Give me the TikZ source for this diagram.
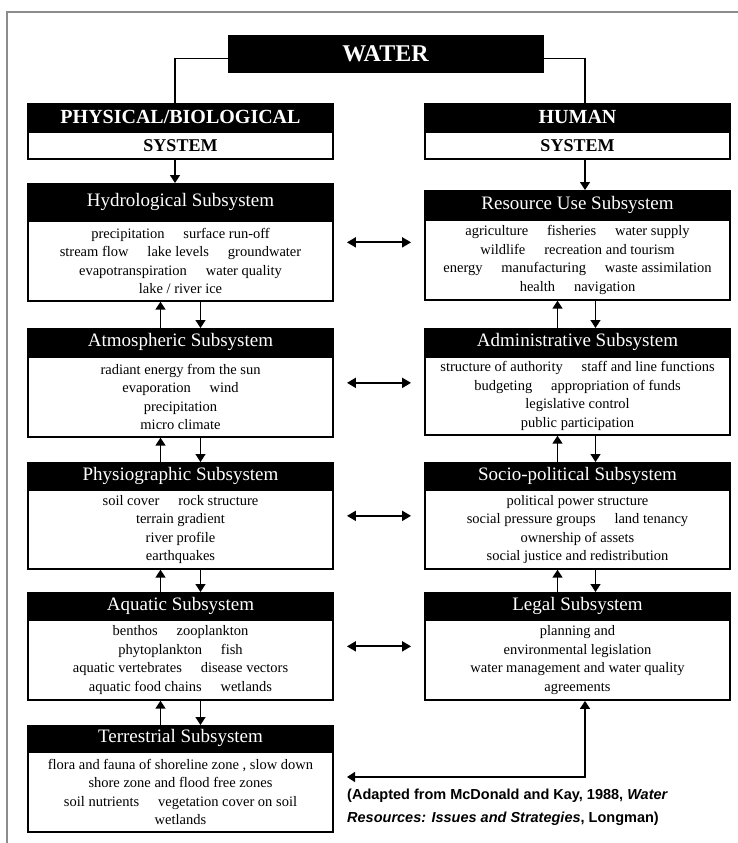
\documentclass[tikz,border=0pt]{standalone}
\usepackage{fontspec}
\setmainfont{Liberation Serif}
\newfontfamily\capfont{Liberation Sans}
\usetikzlibrary{arrows.meta,fit}
\newcommand\itemgap{\hspace{1.3em}}
\newcommand\subsys[7]{%
  \node[headbox, minimum height=#4pt] (#1h) at (#2,#3) {#5};
  \node[bodybox, minimum height=#6pt] (#1b) at (#1h.south) {#7};
  \node[fit=(#1h)(#1b), inner sep=0pt] (#1) {};
}
\begin{document}
\begin{tikzpicture}[x=1pt,y=-1pt,
  headbox/.style={draw=black, fill=black, text=white, line width=1.2pt, minimum width=305pt, inner sep=0pt, anchor=north, font=\fontsize{19}{21}\selectfont},
  bodybox/.style={draw=black, fill=white, line width=1.5pt, minimum width=305pt, inner sep=0pt, anchor=north, align=center, font=\fontsize{14.5}{18.5}\selectfont},
  topbox/.style={draw=black, fill=black, text=white, line width=1.2pt, minimum width=305pt, minimum height=27pt, inner sep=0pt, anchor=north, font=\bfseries\fontsize{20}{22}\selectfont},
  sysbox/.style={draw=black, fill=white, line width=1.5pt, minimum width=305pt, minimum height=27pt, inner sep=0pt, anchor=north, font=\bfseries\fontsize{18}{20}\selectfont},
  conn/.style={line width=1.5pt},
  arr/.style={line width=1.5pt, -{Triangle[width=10pt,length=8pt]}},
  dbl/.style={line width=2pt, {Triangle[width=10pt,length=9pt]}-{Triangle[width=10pt,length=9pt]}}
]
\useasboundingbox (0,0) rectangle (738,843);
\draw[black!45, line width=1.5pt] (7,843) -- (7,12) -- (738,12);

% top
\node[draw=black, fill=black, text=white, minimum width=315pt, minimum height=37pt, inner sep=0pt, font=\bfseries\fontsize{24}{26}\selectfont] (water) at (385.5,53.5) {WATER};
\node[topbox] (physh) at (180.5,103) {PHYSICAL/BIOLOGICAL};
\node[sysbox] (physs) at (physh.south) {SYSTEM};
\node[topbox] (humh) at (577.5,103) {HUMAN};
\node[sysbox] (hums) at (humh.south) {SYSTEM};
\coordinate (wl) at (175,0);
\coordinate (wr) at (585,0);
\draw[conn] ([yshift=-5pt]water.west) -| (physh.north -| wl);
\draw[conn] ([yshift=-5pt]water.east) -| (humh.north -| wr);

% left column
\subsys{hyd}{180.5}{183}{36}{Hydrological Subsystem}{80}{precipitation\itemgap surface run-off\\ stream flow\itemgap lake levels\itemgap groundwater\\ evapotranspiration\itemgap water quality\\ lake / river ice}
\subsys{atm}{180.5}{328}{27}{Atmospheric Subsystem}{80}{radiant energy from the sun\\ evaporation\itemgap wind\\ precipitation\\ micro climate}
\subsys{phy}{180.5}{462}{26}{Physiographic Subsystem}{79}{soil cover\itemgap rock structure\\ terrain gradient\\ river profile\\ earthquakes}
\subsys{aqu}{180.5}{592}{26}{Aquatic Subsystem}{80}{benthos\itemgap zooplankton\\ phytoplankton\itemgap fish\\ aquatic vertebrates\itemgap disease vectors\\ aquatic food chains\itemgap wetlands}
\subsys{ter}{180.5}{725}{25}{Terrestrial Subsystem}{80}{flora and fauna of shoreline zone , slow down\\ shore zone and flood free zones\\ soil nutrients\itemgap vegetation cover on soil\\ wetlands}

% right column
\subsys{res}{577.5}{190}{28}{Resource Use Subsystem}{80}{agriculture\itemgap fisheries\itemgap water supply\\ wildlife\itemgap recreation and tourism\\ energy\itemgap manufacturing\itemgap waste assimilation\\ health\itemgap navigation}
\subsys{adm}{577.5}{328}{27}{Administrative Subsystem}{78}{structure of authority\itemgap staff and line functions\\ budgeting\itemgap appropriation of funds\\ legislative control\\ public participation}
\subsys{soc}{577.5}{462}{26}{Socio-political Subsystem}{79}{political power structure\\ social pressure groups\itemgap land tenancy\\ ownership of assets\\ social justice and redistribution}
\subsys{leg}{577.5}{592}{26}{Legal Subsystem}{80}{planning and\\ environmental legislation\\ water management and water quality\\ agreements}

% arrows from system boxes
\draw[arr] (physs.south -| wl) -- (hydh.north -| wl);
\draw[arr] (hums.south -| wr) -- (resh.north -| wr);

% vertical arrows, left
\foreach \u/\l in {hyd/atm, atm/phy, phy/aqu, aqu/ter}{
  \draw[arr] ([xshift=-20pt]\l h.north) -- ([xshift=-20pt]\l h.north |- \u b.south);
  \draw[arr] ([xshift=20pt]\u b.south) -- ([xshift=20pt]\u b.south |- \l h.north);
}
% vertical arrows, right
\foreach \u/\l in {res/adm, adm/soc, soc/leg}{
  \draw[arr] ([xshift=-20pt]\l h.north) -- ([xshift=-20pt]\l h.north |- \u b.south);
  \draw[arr] ([xshift=18pt]\u b.south) -- ([xshift=18pt]\u b.south |- \l h.north);
}

% horizontal double arrows
\foreach \a/\b in {hyd/res, atm/adm, phy/soc, aqu/leg}{
  \draw[dbl] ([xshift=13pt]\a.east) -- ([xshift=-13pt]\a.east -| \b.west);
}

% bottom connector
\coordinate (capl) at (347,777);
\draw[line width=1.5pt, {Triangle[width=10pt,length=8pt]}-{Triangle[width=10pt,length=8pt]}] (capl) -| (leg.south -| wr);

\node[anchor=north west, align=left, inner sep=0pt, font=\capfont\bfseries\fontsize{14.5}{23}\selectfont] (cap) at (347,789)
  {(Adapted from McDonald and Kay, 1988, \textit{Water}\\ \textit{Resources: Issues and Strategies}, Longman)};
\end{tikzpicture}
\end{document}
